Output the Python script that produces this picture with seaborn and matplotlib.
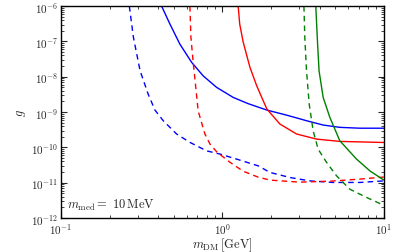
import matplotlib
matplotlib.use("Agg")
import matplotlib.pyplot as plt
import seaborn as sns
import pandas as pd

# (m_DM in GeV, coupling g)
blue_solid_m = [0.420, 0.473, 0.545, 0.645, 0.760, 0.921, 1.167, 1.44, 1.886, 2.50, 3.32, 4.21, 5.34, 7.1, 10.0]
blue_solid_g = [1e-6, 3.1e-7, 8.4e-8, 2.55e-8, 1.06e-8, 5.0e-9, 2.6e-9, 1.74e-9, 1.14e-9, 8.2e-10, 5.7e-10, 4.3e-10, 3.7e-10, 3.5e-10, 3.5e-10]

blue_dash_m = [0.265, 0.281, 0.309, 0.347, 0.382, 0.430, 0.520, 0.629, 0.798, 0.965, 1.22, 1.67, 1.97, 2.62, 3.48, 4.83, 7.1, 10.0]
blue_dash_g = [1e-6, 1.3e-7, 1.48e-8, 3.2e-9, 1.14e-9, 5.7e-10, 2.4e-10, 1.39e-10, 8.0e-11, 6.5e-11, 4.7e-11, 3.0e-11, 1.96e-11, 1.41e-11, 1.13e-11, 1.02e-11, 1.02e-11, 1.13e-11]

red_solid_m = [1.252, 1.28, 1.345, 1.48, 1.63, 1.79, 1.886, 2.27, 2.88, 3.83, 5.34, 10.0]
red_solid_g = [1e-6, 3.1e-7, 9.6e-8, 1.87e-8, 5.6e-9, 2.09e-9, 1.22e-9, 4.6e-10, 2.4e-10, 1.72e-10, 1.48e-10, 1.38e-10]

red_dash_m = [0.629, 0.638, 0.659, 0.708, 0.779, 0.838, 0.925, 1.11, 1.34, 1.66, 1.97, 3.02, 4.83, 7.1, 10.0]
red_dash_g = [1e-6, 1.33e-7, 2.6e-8, 1.07e-9, 2.4e-10, 1.24e-10, 7.4e-11, 3.85e-11, 2.14e-11, 1.45e-11, 1.19e-11, 1.04e-11, 1.12e-11, 1.27e-11, 1.45e-11]

green_solid_m = [3.79, 3.87, 3.97, 4.21, 4.63, 5.34, 6.77, 8.19, 10.0]
green_solid_g = [1e-6, 1.3e-7, 1.48e-8, 2.6e-9, 7.1e-10, 1.54e-10, 4.7e-11, 2.18e-11, 1.19e-11]

green_dash_m = [3.20, 3.24, 3.32, 3.45, 3.65, 3.92, 4.42, 5.09, 6.15, 7.81, 10.0]
green_dash_g = [1e-6, 1.3e-7, 1.48e-8, 1.68e-9, 2.95e-10, 8.9e-11, 3.77e-11, 1.58e-11, 6.6e-12, 3.85e-12, 2.3e-12]

curves = [
    (blue_solid_m, blue_solid_g, "blue", "-"),
    (blue_dash_m, blue_dash_g, "blue", "--"),
    (red_solid_m, red_solid_g, "red", "-"),
    (red_dash_m, red_dash_g, "red", "--"),
    (green_solid_m, green_solid_g, "green", "-"),
    (green_dash_m, green_dash_g, "green", "--"),
]

sns.set_style("ticks")
plt.rcParams["mathtext.fontset"] = "cm"
plt.rcParams["font.family"] = ["serif"]
plt.rcParams["font.serif"] = ["cmr10", "DejaVu Serif"]
plt.rcParams["axes.formatter.use_mathtext"] = True

fig = plt.figure(figsize=(4.04, 2.53), dpi=100)
ax = fig.add_axes([0.151, 0.134, 0.799, 0.838])

for m, g, col, ls in curves:
    df = pd.DataFrame({"m": m, "g": g})
    sns.lineplot(data=df, x="m", y="g", color=col, sort=False, ax=ax, lw=1.0)
    if ls == "--":
        ax.lines[-1].set_dashes((4, 3))

ax.set_xscale("log")
ax.set_yscale("log")
ax.set_xlim(0.1, 10)
ax.set_ylim(1e-12, 1e-6)
ax.set_xlabel(r"$m_{\mathrm{DM}}\,[\mathrm{GeV}]$", fontsize=9, labelpad=0)
ax.set_ylabel(r"$g$", fontsize=9, labelpad=2)
ax.tick_params(which="both", direction="in", top=True, right=True, labelsize=8, pad=2)
ax.tick_params(which="major", length=4, width=0.8)
ax.tick_params(which="minor", length=2, width=0.6)
for s in ax.spines.values():
    s.set_linewidth(1.0)
    s.set_color("black")

ax.text(0.02, 0.03, r"$m_{\mathrm{med}} =\ 10\,\mathrm{MeV}$", transform=ax.transAxes,
        fontsize=9, ha="left", va="bottom")

fig.savefig("out.png", dpi=100)
